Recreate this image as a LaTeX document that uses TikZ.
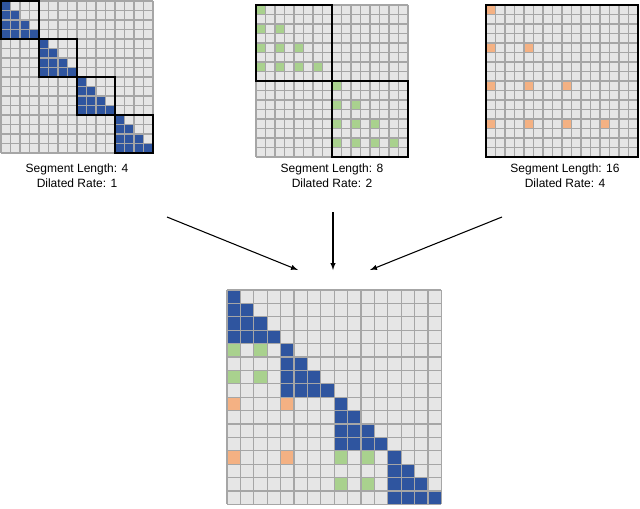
\documentclass[tikz,border=0pt]{standalone}
\usepackage{fontspec}
\setmainfont{Liberation Sans}
\begin{document}
\begin{tikzpicture}[x=0.75pt,y=-0.75pt,
  lbl/.style={font=\fontsize{9}{11}\selectfont,align=center,inner sep=0},
  arr/.style={-latex,line width=0.8pt},
  frame/.style={draw=black,line width=1.2pt}]
\definecolor{cgray}{HTML}{E6E6E6}\definecolor{cline}{HTML}{A6A6A6}
\definecolor{cblue}{HTML}{2F559F}\definecolor{cgreen}{HTML}{A9D18E}\definecolor{corange}{HTML}{F4B183}
\useasboundingbox (0,0) rectangle (640,508);
% grid macro: #1 x0, #2 y0, #3 cell
\newcommand\mygrid[3]{\fill[cgray] (#1,#2) rectangle ++(16*#3,16*#3);}
\newcommand\mylines[3]{\foreach \k in {0,...,16}{\draw[cline,line width=0.8pt] (#1+\k*#3,#2) -- ++(0,16*#3); \draw[cline,line width=0.8pt] (#1,#2+\k*#3) -- ++(16*#3,0);}}
\newcommand\mycell[5]{\fill[#5] (#1+#4*#3,#2+#4*0+0) ++(0,0) rectangle ++(#3,#3);}
% cell(x0,y0,s,row,col,color)
\newcommand\cc[6]{\fill[#6] ({#1+(#5)*#3},{#2+(#4)*#3}) rectangle ++(#3,#3);}
% ---- grid 1
\def\s{9.5}
\mygrid{1}{1}{\s}
\foreach \b in {0,...,3}{\foreach \i in {0,...,3}{\foreach \j in {0,...,\i}{\cc{1}{1}{\s}{4*\b+\i}{4*\b+\j}{cblue}}}}
\mylines{1}{1}{\s}
\foreach \b in {0,...,3}{\draw[frame] ({1+4*\b*\s},{1+4*\b*\s}) rectangle ++(4*\s,4*\s);}
% ---- grid 2
\mygrid{256}{5}{\s}
\foreach \b in {0,1}{\foreach \i in {0,...,3}{\foreach \j in {0,...,\i}{\cc{256}{5}{\s}{8*\b+2*\i}{8*\b+2*\j}{cgreen}}}}
\mylines{256}{5}{\s}
\foreach \b in {0,1}{\draw[frame] ({256+8*\b*\s},{5+8*\b*\s}) rectangle ++(8*\s,8*\s);}
% ---- grid 3
\mygrid{486}{5}{\s}
\foreach \i in {0,...,3}{\foreach \j in {0,...,\i}{\cc{486}{5}{\s}{4*\i}{4*\j}{corange}}}
\mylines{486}{5}{\s}
\draw[frame] (486,5) rectangle ++(16*\s,16*\s);
% ---- bottom grid
\def\t{13.4}
\mygrid{227}{290}{\t}
\foreach \i in {0,...,3}{\foreach \j in {0,...,\i}{\cc{227}{290}{\t}{4*\i}{4*\j}{corange}}}
\foreach \b in {0,1}{\foreach \i in {0,...,3}{\foreach \j in {0,...,\i}{\cc{227}{290}{\t}{8*\b+2*\i}{8*\b+2*\j}{cgreen}}}}
\foreach \b in {0,...,3}{\foreach \i in {0,...,3}{\foreach \j in {0,...,\i}{\cc{227}{290}{\t}{4*\b+\i}{4*\b+\j}{cblue}}}}
\mylines{227}{290}{\t}
% labels
\node[lbl] (l1) at (77,176) {Segment Length: 4\\Dilated Rate: 1};
\node[lbl] (l2) at (332,176) {Segment Length: 8\\Dilated Rate: 2};
\node[lbl] (l3) at (565,176) {Segment Length: 16\\Dilated Rate: 4};
\coordinate (a1) at (167,217); \coordinate (b1) at (298,270);
\coordinate (a2) at (333,212); \coordinate (b2) at (333,270);
\coordinate (a3) at (502,217); \coordinate (b3) at (370,270);
\draw[arr] (a1) -- (b1);
\draw[arr] (a2) -- (b2);
\draw[arr] (a3) -- (b3);
\end{tikzpicture}
\end{document}
